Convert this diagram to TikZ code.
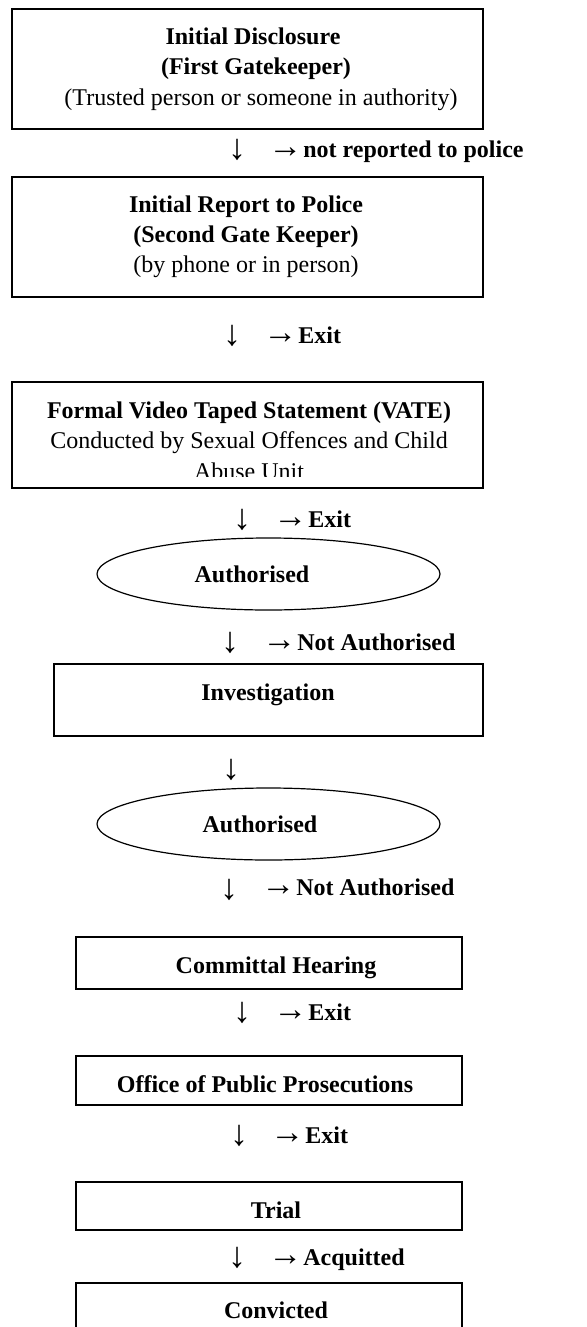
\documentclass[tikz,border=0pt]{standalone}
\usepackage{fontspec}
\setmainfont{Liberation Serif}
\usetikzlibrary{shapes.geometric}

\newcommand{\outarrow}{{\fontsize{17}{17}\selectfont\mdseries →}\hspace{0.5pt}}

\tikzset{
  stage/.style={draw, rectangle, line width=0.8pt, inner sep=0pt, outer sep=0pt, anchor=north west},
  gate/.style={draw, ellipse, line width=0.6pt, inner sep=0pt, minimum width=171.5pt, minimum height=36pt},
  head/.style={anchor=base, inner sep=0pt, font=\fontsize{12}{15}\selectfont\bfseries},
  note/.style={anchor=base, inner sep=0pt, font=\fontsize{12}{15}\selectfont},
  down/.style={anchor=base, inner sep=0pt, font=\fontsize{18}{18}\selectfont},
  side/.style={anchor=base west, inner sep=0pt, font=\fontsize{12}{15}\selectfont\bfseries},
}

\begin{document}
\begin{tikzpicture}[x=0.5pt, y=-0.5pt]
    \useasboundingbox (0,0) rectangle (586,1327);
    \clip (0,0) rectangle (586,1327);

    % Gatekeepers
    \node[stage, minimum width=235.5pt, minimum height=60pt] (disclosure) at (12,9) {};
    \node[head] (disclosureA) at (253,45) {Initial Disclosure};
    \node[head] (disclosureB) at (256,75) {(First Gatekeeper)};
    \node[note] (disclosureC) at (261,105) {(Trusted person or someone in authority)};

    \node[down] (d1) at (237,159) {↓};
    \node[side] (x1) at (268,157) {\outarrow not reported to police};

    \node[stage, minimum width=235.5pt, minimum height=60pt] (report) at (12,177) {};
    \node[head] (reportA) at (246,212) {Initial Report to Police};
    \node[head] (reportB) at (246,242) {(Second Gate Keeper)};
    \node[note] (reportC) at (246,272) {(by phone or in person)};

    \node[down] (d2) at (232,345) {↓};
    \node[side] (x2) at (263,343) {\outarrow Exit};

    % Statement
    \node[stage, minimum width=235.5pt, minimum height=53pt] (vate) at (12,382) {};
    \node[head] (vateA) at (249,418) {Formal Video Taped Statement (VATE)};
    \node[note] (vateB) at (249,448) {Conducted by Sexual Offences and Child};
    \begin{scope}
        \clip (12,455) rectangle (483,476);
        \node[note] (vateC) at (249,479) {Abuse Unit};
    \end{scope}

    \node[down] (d3) at (242,529) {↓};
    \node[side] (x3) at (273,527) {\outarrow Exit};

    \node[gate] (auth1) at (268.5,574) {};
    \node[head] (auth1t) at (252,582) {Authorised};

    \node[down] (d4) at (230,652) {↓};
    \node[side] (x4) at (262,650) {\outarrow Not Authorised};

    % Investigation
    \node[stage, minimum width=214.5pt, minimum height=36pt] (invest) at (54,664) {};
    \node[head] (investt) at (268,700) {Investigation};

    \node[down] (d5) at (231,779) {↓};

    \node[gate] (auth2) at (268.5,824) {};
    \node[head] (auth2t) at (260,832) {Authorised};

    \node[down] (d6) at (229,899) {↓};
    \node[side] (x6) at (261,895) {\outarrow Not Authorised};

    % Court
    \node[stage, minimum width=193pt, minimum height=26pt] (committal) at (76,937) {};
    \node[head] (committalt) at (276,973) {Committal Hearing};

    \node[down] (d7) at (242,1022) {↓};
    \node[side] (x7) at (273,1020) {\outarrow Exit};

    \node[stage, minimum width=193pt, minimum height=24.5pt] (opp) at (76,1056) {};
    \node[head] (oppt) at (265,1092) {Office of Public Prosecutions};

    \node[down] (d8) at (239,1145) {↓};
    \node[side] (x8) at (270,1143) {\outarrow Exit};

    \node[stage, minimum width=193pt, minimum height=24pt] (trial) at (76,1182) {};
    \node[head] (trialt) at (276,1218) {Trial};

    \node[down] (d9) at (237,1267) {↓};
    \node[side] (x9) at (268,1265) {\outarrow Acquitted};

    \node[stage, minimum width=193pt, minimum height=30pt] (convicted) at (76,1283) {};
    \node[head] (convictedt) at (276,1318) {Convicted};
\end{tikzpicture}
\end{document}
